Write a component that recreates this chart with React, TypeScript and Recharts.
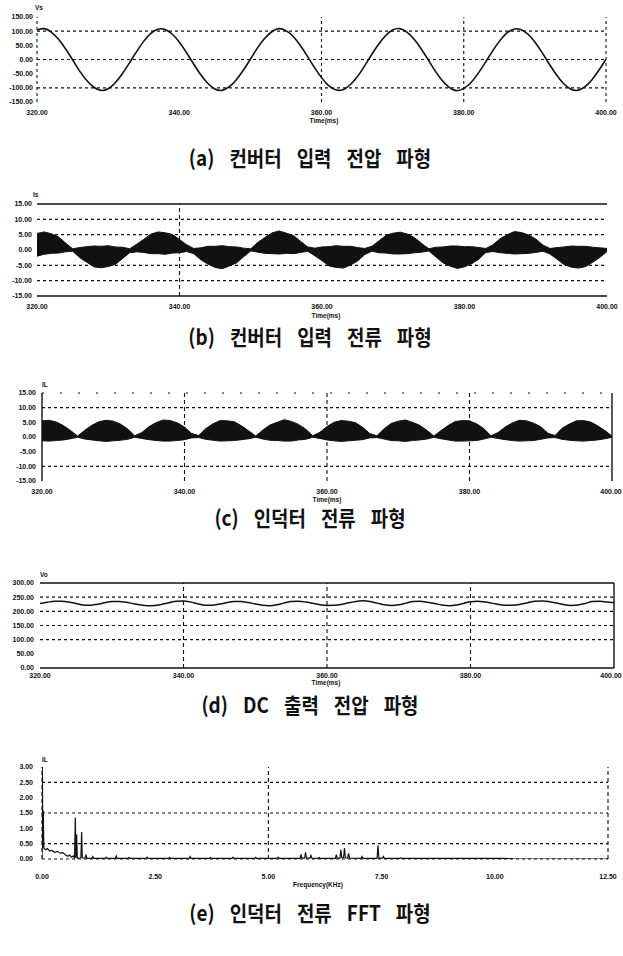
import type { ReactNode } from 'react';
import { Area, ComposedChart, Line, ReferenceLine, XAxis, YAxis } from 'recharts';

// time axis shared by the four scope traces (ms)
const TIME_MS = [
  320, 321, 322, 323, 324, 325, 326, 327, 328, 329, 330, 331, 332, 333, 334, 335, 336, 337, 338, 339,
  340, 341, 342, 343, 344, 345, 346, 347, 348, 349, 350, 351, 352, 353, 354, 355, 356, 357, 358, 359,
  360, 361, 362, 363, 364, 365, 366, 367, 368, 369, 370, 371, 372, 373, 374, 375, 376, 377, 378, 379,
  380, 381, 382, 383, 384, 385, 386, 387, 388, 389, 390, 391, 392, 393, 394, 395, 396, 397, 398, 399,
  400,
];
const TIME_TICKS = [320, 340, 360, 380, 400];

// (a) converter input voltage
const VS = [
  104, 109, 97, 72, 38, -1, -41, -74, -98, -109, -103,
  -82, -50, -12, 28, 64, 92, 107, 106, 90, 62,
  25, -15, -53, -84, -104, -109, -97, -72, -38, 1,
  41, 74, 98, 109, 102, 82, 50, 12, -28, -64,
  -92, -107, -107, -90, -62, -25, 15, 53, 84, 104,
  109, 97, 72, 38, -1, -41, -75, -99, -110, -102,
  -82, -50, -12, 28, 64, 92, 107, 106, 90, 62,
  25, -15, -53, -84, -104, -109, -97, -72, -38, 1,
];

// (b) converter input current, ripple envelope
const IS_HIGH = [
  5.4, 5.9, 5.3, 4.3, 2.3, 0.4, 0.8, 1.1, 1.3, 1.2, 1.4,
  1.0, 0.9, 0.4, 1.9, 3.5, 5.2, 5.9, 5.6, 5.1, 3.4,
  1.7, 0.5, 0.7, 1.2, 1.2, 1.4, 1.1, 1.0, 0.6, 0.4,
  2.5, 4.1, 5.6, 6.2, 5.5, 4.7, 2.8, 1.0, 0.6, 1.0,
  1.1, 1.4, 1.2, 1.2, 0.8, 0.5, 1.2, 3.0, 4.8, 5.5,
  5.8, 5.2, 4.0, 2.1, 0.4, 0.9, 1.0, 1.3, 1.3, 1.1,
  1.1, 0.8, 0.5, 1.7, 3.7, 5.0, 6.0, 5.7, 4.9, 3.6,
  1.6, 0.5, 0.8, 1.0, 1.3, 1.2, 1.2, 0.9, 0.7, 0.5,
];
const IS_LOW = [
  -2.0, -1.4, -1.1, -1.0, -0.6, -0.4, -2.5, -4.0, -5.5, -5.8, -5.4,
  -4.7, -2.8, -0.9, -0.6, -0.8, -1.2, -1.2, -1.4, -1.0, -0.9,
  -0.5, -1.2, -3.2, -4.6, -5.7, -6.1, -5.2, -4.2, -2.2, -0.3,
  -0.7, -1.1, -1.2, -1.3, -1.1, -1.2, -0.8, -0.4, -1.9, -3.5,
  -5.2, -5.7, -5.9, -4.9, -3.6, -1.5, -0.4, -0.9, -1.0, -1.3,
  -1.3, -1.2, -0.9, -0.7, -0.3, -2.3, -4.2, -5.3, -6.0, -5.5,
  -4.5, -3.0, -0.8, -0.5, -0.9, -1.1, -1.3, -1.2, -1.1, -0.8,
  -0.4, -1.3, -3.0, -4.8, -5.6, -5.9, -5.4, -4.0, -2.4, -0.5,
];

// (c) inductor current, ripple envelope
const IL_HIGH = [
  5.5, 5.7, 5.1, 3.9, 2.2, 0.3, 2.3, 4.0, 5.2, 5.7, 5.4, 4.4, 2.8, 0.4, 1.5, 3.5, 4.9, 5.8, 5.6, 4.8, 3.4, 1.2, 0.5, 2.9, 4.5,
  5.6, 5.5, 5.2, 3.8, 2.1, 0.3, 2.4, 4.1, 5.0, 5.9, 5.3, 4.3, 2.7, 0.4, 1.6, 3.6, 5.0, 5.6, 5.4, 4.9, 3.3, 1.2, 0.4, 2.8, 4.6,
  5.4, 5.8, 5.0, 4.0, 2.3, 0.3, 2.2, 3.9, 5.3, 5.6, 5.5, 4.5, 2.9, 0.4, 1.5, 3.4, 4.8, 5.7, 5.5, 4.7, 3.5, 1.3, 0.5, 3.0, 4.4,
  5.5, 5.6, 5.1, 3.8, 2.2, 0.3,
];
const IL_LOW = [
  -1.3, -1.4, -1.2, -1.0, -0.6, -0.1, -0.7, -1.0, -1.3, -1.5, -1.3, -1.1, -0.8, -0.1, -0.5, -0.9, -1.2, -1.4, -1.4, -1.2, -0.9, -0.3, -0.2, -0.8, -1.1,
  -1.4, -1.3, -1.2, -0.9, -0.6, -0.1, -0.7, -1.1, -1.2, -1.4, -1.4, -1.0, -0.8, -0.1, -0.5, -1.0, -1.3, -1.5, -1.3, -1.1, -0.9, -0.3, -0.2, -0.7, -1.2,
  -1.3, -1.5, -1.2, -1.0, -0.7, -0.1, -0.6, -1.0, -1.4, -1.4, -1.3, -1.2, -0.7, -0.1, -0.5, -0.9, -1.2, -1.4, -1.3, -1.2, -0.8, -0.3, -0.2, -0.8, -1.1,
  -1.3, -1.4, -1.2, -1.0, -0.6, -0.1,
];

// (d) DC output voltage
const VO = [
  228, 232, 235.5, 235.5, 233, 228, 222.5, 221.5, 225, 230,
  234.5, 234.5, 232, 227, 222.5, 220, 221, 225, 230.5, 236,
  236.5, 233, 226.5, 221.5, 221.5, 225.5, 230.5, 234.5, 234.5, 231,
  226, 221.5, 220, 223, 229, 234.5, 235.5, 233, 228.5, 223.5,
  221, 221.5, 224.5, 230, 235, 237, 234.5, 229, 223, 221,
  223, 229, 235, 235.5, 232, 227.5, 222.5, 220, 222, 228,
  234, 235.5, 233, 229, 224.5, 221.5, 221.5, 225, 230.5, 236,
  236.5, 234, 229.5, 224, 221, 222.5, 228, 234.5, 235.5, 233,
  230,
];

// (e) inductor current spectrum
const FFT_KHZ = [
  0, 0.008, 0.018, 0.028, 0.04, 0.08, 0.12, 0.17, 0.22, 0.28, 0.34, 0.4, 0.46, 0.52, 0.57, 0.61, 0.65, 0.69,
  0.72, 0.735, 0.75, 0.765, 0.78, 0.86, 0.875, 0.89, 0.95, 0.97, 0.99,
  1.1, 1.12, 1.14, 1.4, 1.42, 1.44, 1.62, 1.64, 1.66, 1.9, 1.92, 1.94, 2.3, 2.32, 2.34, 2.8, 2.82, 2.84,
  3.25, 3.27, 3.29, 3.7, 3.72, 3.74, 4.2, 4.22, 4.24, 4.7, 4.72, 4.74, 5.2, 5.22, 5.24,
  5.7, 5.72, 5.74, 5.8, 5.82, 5.84, 5.92, 5.94, 5.96, 6.1, 6.12, 6.14,
  6.48, 6.5, 6.52, 6.58, 6.6, 6.62, 6.66, 6.68, 6.7, 6.75, 6.77, 6.79,
  7.05, 7.07, 7.09, 7.4, 7.42, 7.44, 7.52, 7.54, 7.56, 7.9, 7.92, 7.94,
  8.6, 9.3, 10.2, 10.4, 12.5,
];
const FFT_AMP = [
  0, 3.08, 0.35, 1.58, 0.36, 0.3, 0.34, 0.26, 0.28, 0.22, 0.25, 0.19, 0.21, 0.13, 0.09, 0.13, 0.06, 0.1,
  0.03, 1.35, 0.04, 0.8, 0.03, 0.04, 0.88, 0.04, 0.03, 0.14, 0.02,
  0.02, 0.08, 0.02, 0.02, 0.06, 0.02, 0.02, 0.1, 0.02, 0.02, 0.05, 0.02, 0.02, 0.06, 0.02, 0.02, 0.05, 0.02,
  0.02, 0.08, 0.02, 0.02, 0.05, 0.02, 0.02, 0.06, 0.02, 0.02, 0.05, 0.02, 0.02, 0.06, 0.02,
  0.02, 0.15, 0.03, 0.03, 0.22, 0.03, 0.03, 0.12, 0.03, 0.02, 0.05, 0.02,
  0.02, 0.14, 0.03, 0.03, 0.3, 0.04, 0.04, 0.36, 0.04, 0.03, 0.18, 0.03,
  0.02, 0.08, 0.02, 0.02, 0.45, 0.03, 0.03, 0.08, 0.02, 0.02, 0.04, 0.02,
  0.02, 0.02, 0.02, 0.01, 0,
];
const FREQ_TICKS = [0, 2.5, 5, 7.5, 10, 12.5];

const scopeRows = TIME_MS.map((t, i) => ({
  t,
  vs: VS[i],
  is: [IS_LOW[i], IS_HIGH[i]],
  il: [IL_LOW[i], IL_HIGH[i]],
  vo: VO[i],
}));
const fftRows = FFT_KHZ.map((f, i) => ({ f, amp: FFT_AMP[i] }));

const PAGE_W = 623;
const INK = '#111';
const tickFont = {
  fontSize: 7,
  fontWeight: 700,
  fill: INK,
  fontFamily: '"Liberation Sans", Arial, sans-serif',
};
const fmt = (v: number) => v.toFixed(2);

// bottom tick; the last label is pulled in so it stays on the page
function TimeTick(props: any) {
  const { x, y, payload } = props;
  return (
    <text x={Math.min(x, PAGE_W - 12)} y={y} dy="0.71em" textAnchor="middle" {...tickFont}>
      {fmt(payload.value)}
    </text>
  );
}

interface ScopeProps {
  plotTop: number;
  plotBottom: number;
  plotLeft: number;
  plotRight: number;
  data: object[];
  xKey: string;
  xDomain: [number, number];
  xTicks: number[];
  yDomain: [number, number];
  yTicks: number[];
  xGap?: number;
  yGap?: number;
  children: ReactNode;
}

// one oscilloscope panel; plot box given in page pixels
function Scope({
  plotTop,
  plotBottom,
  plotLeft,
  plotRight,
  data,
  xKey,
  xDomain,
  xTicks,
  yDomain,
  yTicks,
  xGap = 8,
  yGap = 4,
  children,
}: ScopeProps) {
  const pad = 4;
  const axisH = 24;
  return (
    <div style={{ position: 'absolute', left: 0, top: plotTop - pad }}>
      <ComposedChart
        width={PAGE_W}
        height={plotBottom - plotTop + pad + axisH}
        data={data}
        margin={{ top: pad, right: PAGE_W - plotRight, bottom: 0, left: 0 }}
      >
        <XAxis
          dataKey={xKey}
          type="number"
          domain={xDomain}
          ticks={xTicks}
          interval={0}
          height={axisH}
          axisLine={false}
          tickLine={false}
          tickSize={xGap - 2}
          tickMargin={2}
          tick={<TimeTick />}
          allowDataOverflow
        />
        <YAxis
          type="number"
          domain={yDomain}
          ticks={yTicks}
          interval={0}
          width={plotLeft}
          axisLine={false}
          tickLine={false}
          tickSize={yGap - 2}
          tickMargin={2}
          tick={tickFont}
          tickFormatter={fmt}
          allowDataOverflow
        />
        {children}
      </ComposedChart>
    </div>
  );
}

const dotted = { stroke: INK, strokeWidth: 1.1, strokeDasharray: '3 3' };
const dashed = { stroke: INK, strokeWidth: 1.1, strokeDasharray: '4 3' };
const solid = { stroke: INK, strokeWidth: 1.4 };

function Tag({ x, y, children, center = false }: { x: number; y: number; children: ReactNode; center?: boolean }) {
  return (
    <div
      style={{
        position: 'absolute',
        left: center ? x - 40 : x,
        width: center ? 80 : undefined,
        textAlign: center ? 'center' : 'left',
        top: y - 4,
        fontFamily: '"Liberation Sans", Arial, sans-serif',
        fontWeight: 700,
        fontSize: 6.5,
        lineHeight: '8px',
        color: INK,
        whiteSpace: 'nowrap',
      }}
    >
      {children}
    </div>
  );
}

function Caption({ y, children }: { y: number; children: ReactNode }) {
  return (
    <div
      style={{
        position: 'absolute',
        left: 0,
        width: 620,
        top: y - 11,
        textAlign: 'center',
        fontFamily: '"Noto Sans CJK KR", sans-serif',
        fontSize: 21,
        lineHeight: '22px',
        fontWeight: 700,
        wordSpacing: 12,
        whiteSpace: 'pre',
        color: INK,
        transform: 'scaleX(0.9)',
      }}
    >
      {children}
    </div>
  );
}

export default function App() {
  return (
    <div
      style={{
        position: 'absolute',
        left: 0,
        top: 0,
        width: PAGE_W,
        height: 956,
        background: '#fff',
        overflow: 'hidden',
      }}
    >
      {/* (a) */}
      <Scope
        plotTop={17}
        plotBottom={102}
        plotLeft={37}
        plotRight={606}
        data={scopeRows}
        xKey="t"
        xDomain={[320, 400]}
        xTicks={TIME_TICKS}
        yDomain={[-150, 150]}
        yTicks={[-150, -100, -50, 0, 50, 100, 150]}
      >
        <ReferenceLine y={100} {...dotted} />
        <ReferenceLine y={0} {...dotted} />
        <ReferenceLine y={-100} {...dotted} />
        <ReferenceLine x={320} {...dotted} />
        <ReferenceLine x={360} {...dotted} />
        <ReferenceLine x={380} {...dotted} />
        <ReferenceLine x={400} {...dotted} />
        <Line dataKey="vs" type="natural" stroke={INK} strokeWidth={1.6} dot={false} isAnimationActive={false} />
      </Scope>
      <Tag x={35} y={8}>Vs</Tag>
      <Tag x={324} y={121} center>Time(ms)</Tag>
      <Caption y={157}>(a) 컨버터 입력 전압 파형</Caption>

      {/* (b) */}
      <Scope
        plotTop={204}
        plotBottom={296}
        plotLeft={37}
        plotRight={607}
        data={scopeRows}
        xKey="t"
        xDomain={[320, 400]}
        xTicks={TIME_TICKS}
        yDomain={[-15, 15]}
        yTicks={[-15, -10, -5, 0, 5, 10, 15]}
        yGap={5}
      >
        <ReferenceLine y={15} {...solid} />
        <ReferenceLine y={-15} {...solid} />
        <ReferenceLine y={10} {...dotted} />
        <ReferenceLine y={5} {...dotted} />
        <ReferenceLine y={-5} {...dotted} />
        <ReferenceLine y={-10} {...dotted} />
        <ReferenceLine x={340} {...dashed} />
        <Area dataKey="is" type="linear" stroke={INK} strokeWidth={1} fill={INK} fillOpacity={1} isAnimationActive={false} />
      </Scope>
      <Tag x={33} y={195}>Is</Tag>
      <Tag x={326} y={316} center>Time(ms)</Tag>
      <Caption y={336}>(b) 컨버터 입력 전류 파형</Caption>

      {/* (c) */}
      <Scope
        plotTop={393}
        plotBottom={481}
        plotLeft={42}
        plotRight={612}
        data={scopeRows}
        xKey="t"
        xDomain={[320, 400]}
        xTicks={TIME_TICKS}
        yDomain={[-15, 15]}
        yTicks={[-15, -10, -5, 0, 5, 10, 15]}
        yGap={6}
      >
        <ReferenceLine y={10} {...dotted} />
        <ReferenceLine y={-10} {...dotted} />
        <ReferenceLine y={15} stroke={INK} strokeWidth={1} strokeDasharray="2 16" />
        <ReferenceLine x={320} {...solid} />
        <ReferenceLine x={340} {...dashed} />
        <ReferenceLine x={360} {...dashed} />
        <ReferenceLine x={380} {...dashed} />
        <ReferenceLine x={400} {...solid} />
        <Area dataKey="il" type="linear" stroke={INK} strokeWidth={1} fill={INK} fillOpacity={1} isAnimationActive={false} />
      </Scope>
      <Tag x={42} y={385}>IL</Tag>
      <Tag x={327} y={500} center>Time(ms)</Tag>
      <Caption y={517}>(c) 인덕터 전류 파형</Caption>

      {/* (d) */}
      <Scope
        plotTop={583}
        plotBottom={668}
        plotLeft={40}
        plotRight={614}
        data={scopeRows}
        xKey="t"
        xDomain={[320, 400]}
        xTicks={TIME_TICKS}
        yDomain={[0, 300]}
        yTicks={[0, 50, 100, 150, 200, 250, 300]}
        yGap={6}
        xGap={5}
      >
        <ReferenceLine y={300} {...solid} />
        <ReferenceLine y={0} {...solid} />
        <ReferenceLine y={250} {...dotted} />
        <ReferenceLine y={200} {...dotted} />
        <ReferenceLine y={150} {...dotted} />
        <ReferenceLine y={100} {...dotted} />
        <ReferenceLine x={340} {...dashed} />
        <ReferenceLine x={360} {...dashed} />
        <ReferenceLine x={380} {...dashed} />
        <ReferenceLine x={400} {...solid} />
        <Line dataKey="vo" type="monotone" stroke={INK} strokeWidth={1.5} dot={false} isAnimationActive={false} />
      </Scope>
      <Tag x={40} y={575}>Vo</Tag>
      <Tag x={326} y={683} center>Time(ms)</Tag>
      <Caption y={704}>(d) DC 출력 전압 파형</Caption>

      {/* (e) */}
      <Scope
        plotTop={767}
        plotBottom={859}
        plotLeft={42}
        plotRight={608}
        data={fftRows}
        xKey="f"
        xDomain={[0, 12.5]}
        xTicks={FREQ_TICKS}
        yDomain={[0, 3]}
        yTicks={[0, 0.5, 1, 1.5, 2, 2.5, 3]}
        xGap={15}
        yGap={9}
      >
        <ReferenceLine y={2.5} {...dotted} />
        <ReferenceLine y={1.5} {...dotted} />
        <ReferenceLine y={0.5} {...dotted} />
        <ReferenceLine y={0} {...dotted} />
        <ReferenceLine x={0} {...dashed} />
        <ReferenceLine x={5} {...dashed} />
        <ReferenceLine x={12.5} {...dashed} />
        <Line dataKey="amp" type="linear" stroke={INK} strokeWidth={1.2} dot={false} isAnimationActive={false} />
      </Scope>
      <Tag x={42} y={760}>IL</Tag>
      <Tag x={318} y={885} center>Frequency(KHz)</Tag>
      <Caption y={912}>(e) 인덕터 전류 FFT 파형</Caption>
    </div>
  );
}
